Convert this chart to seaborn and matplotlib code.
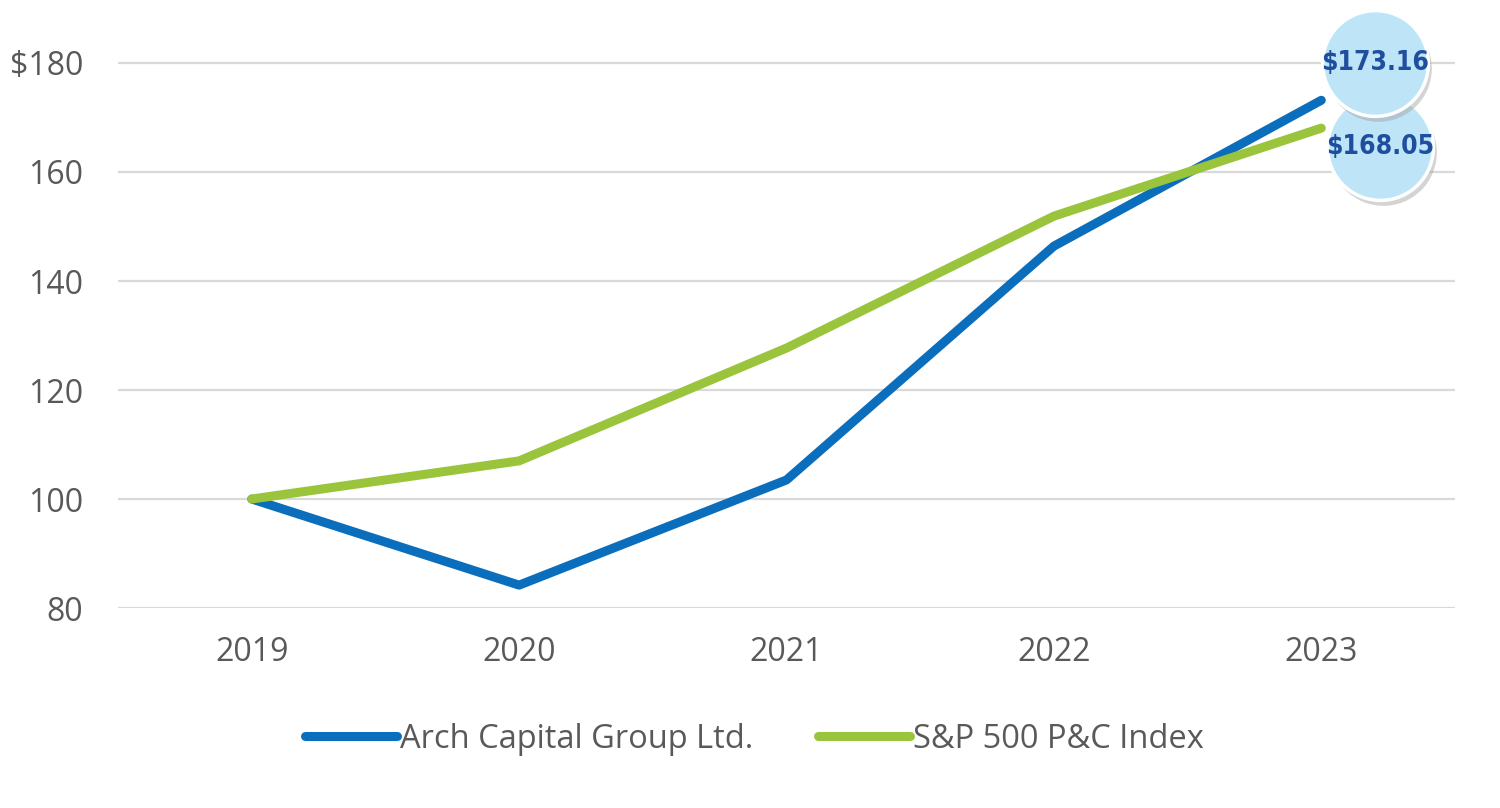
import numpy as np
import pandas as pd
import matplotlib
matplotlib.use("Agg")
import matplotlib.pyplot as plt
import seaborn as sns

# datos
years = [2019, 2020, 2021, 2022, 2023]
arch = [100, 84.2, 103.5, 146.4, 173.16]
spx = [100, 107.0, 127.7, 151.9, 168.05]
series_names = ["Arch Capital Group Ltd.", "S&P 500 P&C Index"]
end_labels = ["$173.16", "$168.05"]
y_ticks = [80, 100, 120, 140, 160, 180]

df = pd.DataFrame({
    "year": years * 2,
    "value": arch + spx,
    "serie": [series_names[0]] * 5 + [series_names[1]] * 5,
})

sns.set_style("white")
plt.rcParams["font.family"] = ["Open Sans", "DejaVu Sans"]

fig = plt.figure(figsize=(15, 8.08), dpi=100)
ax = fig.add_axes([0.0787, 0.2475, 0.8913, 0.742])

colores = {series_names[0]: "#0A6EBD", series_names[1]: "#9AC43C"}
sns.lineplot(data=df, x="year", y="value", hue="serie", palette=colores,
             linewidth=6.5, ax=ax, legend=True, solid_capstyle="round")

ax.set_xlim(2018.5, 2023.5)
ax.set_ylim(80, 190)
ax.set_yticks(y_ticks)
ax.set_yticklabels(["80", "100", "120", "140", "160", "$180"])
ax.set_xticks(years)
ax.set_xticklabels([str(y) for y in years])
ax.yaxis.grid(True, color="#D9D9D9", linewidth=1.6)
ax.set_axisbelow(True)
for s in ax.spines.values():
    s.set_visible(False)
ax.tick_params(axis="both", length=0, labelsize=23, colors="#595959")
ax.tick_params(axis="y", pad=25)
ax.tick_params(axis="x", pad=20)
ax.set_xlabel("")
ax.set_ylabel("")

# burbujas con el valor final
bx = [2023.2, 2023.22]
by = [180, 164.6]
for i in [1, 0]:
    ax.scatter([bx[i] + 0.012], [by[i] - 0.9], s=5900, color="#A0A0A0", alpha=0.45,
               linewidths=0, zorder=5 + (1 - i) * 2, clip_on=False)
    ax.scatter([bx[i]], [by[i]], s=5800, color="#BEE5F7", edgecolors="white",
               linewidths=2.5, zorder=6 + (1 - i) * 2, clip_on=False)
    ax.text(bx[i], by[i], end_labels[i], ha="center", va="center", fontsize=19,
            fontweight="bold", fontstretch="condensed", color="#1F4E9E", zorder=10,
            family=["DejaVu Sans"])

leg = ax.legend(loc="center", bbox_to_anchor=(0.503, 0.085), bbox_transform=fig.transFigure,
                ncol=2, frameon=False, fontsize=23.5, handlelength=2.8, handletextpad=0.1,
                columnspacing=2.0)
for t in leg.get_texts():
    t.set_color("#595959")
for h in leg.get_lines():
    h.set_linewidth(6.5)
    h.set_solid_capstyle("round")

fig.savefig("out.png", dpi=100)
